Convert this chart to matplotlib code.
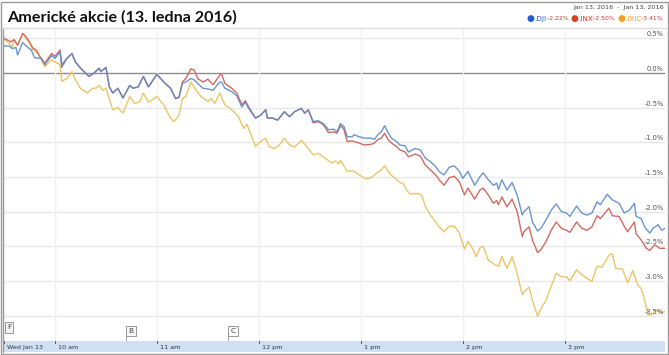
import matplotlib
matplotlib.use("Agg")
import matplotlib.pyplot as plt
from matplotlib.patches import Rectangle
from matplotlib.transforms import blended_transform_factory

# ---------------- data (minutes since 9:30 open, % change) ----------------
dji_t = [0, 3, 5, 7, 8, 11, 13, 16, 18, 22, 24, 28, 30, 33, 34,
         37, 40, 42, 45, 50, 53, 56, 57, 60, 62, 64, 67, 70, 74, 76, 79, 82, 85, 90, 94, 98,
         101, 103, 105, 107, 110, 112, 114, 117, 120, 123, 127, 128, 130, 134, 137, 140, 142, 144,
         148, 151, 154, 155, 158, 161, 165, 168, 171, 175, 177, 179,
         182, 185, 188, 191, 194, 196, 198, 200, 202, 205, 206, 209, 212, 216, 218, 220, 222, 224,
         226, 228, 231, 233, 236, 238, 242, 245, 248, 251, 254, 256, 259, 262, 265, 268, 270, 273,
         277, 280, 282, 285, 288, 290, 291, 293, 296, 299, 302, 305, 306, 309, 311, 314, 316, 319,
         322, 325, 328, 331, 333, 337, 340, 343, 346, 349, 351, 355, 358, 362, 365, 368, 371, 372,
         375, 377, 380, 382, 385, 387, 389]
dji_v = [0.39, 0.39, 0.35, 0.37, 0.26, 0.44, 0.39, 0.33, 0.22, 0.21, 0.12, 0.25, 0.21, 0.30, 0.08,
         0.21, 0.28, 0.16, 0.07, -0.05, 0.00, 0.07, 0.02, 0.08, -0.20, -0.29, -0.22, -0.36, -0.18, -0.22, -0.20, -0.05, -0.20, -0.02, -0.13, -0.22,
         -0.37, -0.35, -0.15, -0.13, -0.08, -0.10, -0.15, -0.22, -0.23, -0.25, -0.13, -0.13, -0.22, -0.27, -0.33, -0.49, -0.42, -0.51,
         -0.65, -0.61, -0.53, -0.65, -0.65, -0.68, -0.56, -0.63, -0.56, -0.51, -0.58, -0.53,
         -0.70, -0.69, -0.73, -0.82, -0.81, -0.85, -0.73, -0.77, -0.92, -0.92, -0.89, -0.92, -0.94, -0.94, -0.96, -0.89, -0.85, -0.76,
         -0.86, -0.94, -0.99, -1.04, -1.05, -1.14, -1.09, -1.11, -1.23, -1.28, -1.35, -1.42, -1.47, -1.36, -1.34, -1.42, -1.52, -1.42,
         -1.62, -1.50, -1.44, -1.54, -1.62, -1.59, -1.68, -1.54, -1.69, -1.58, -1.76, -2.05, -2.00, -1.93, -2.15, -2.28, -2.24, -2.12,
         -1.98, -1.89, -2.00, -2.02, -2.07, -1.92, -2.02, -2.05, -2.02, -1.86, -1.90, -1.75, -1.83, -1.88, -2.02, -1.98, -1.88, -2.07,
         -2.10, -2.22, -2.31, -2.24, -2.19, -2.27, -2.24]

inx_t = [0, 4, 6, 8, 11, 13, 15, 17, 19, 21, 24, 28, 30, 33, 34, 37, 40, 42, 45, 50, 53, 56, 57, 60,
         62, 64, 67, 70, 74, 76, 79, 82, 85, 90, 94, 98, 101, 103, 105, 107, 110, 112, 114, 117, 120,
         123, 127, 128, 130, 134, 137, 140, 142, 144, 148, 151, 154, 155, 158, 161, 165, 168, 171, 175,
         177, 179, 182, 185, 188, 191, 194, 196, 198, 200, 202, 205, 206, 209, 212, 216, 218, 220, 222,
         224, 226, 228, 231, 233, 236, 238, 242, 245, 248, 251, 254, 256, 259, 262, 265, 268, 271, 273,
         277, 280, 282, 285, 288, 290, 291, 293, 296, 299, 302, 305, 306, 309, 311, 314, 316, 319, 322,
         325, 328, 331, 333, 337, 340, 343, 346, 349, 351, 356, 358, 362, 365, 367, 371, 372, 375, 378,
         380, 383, 386, 389]
inx_v = [0.50, 0.45, 0.48, 0.40, 0.57, 0.52, 0.45, 0.36, 0.33, 0.24, 0.14, 0.28, 0.24, 0.33, 0.12, 0.21, 0.28, 0.16, 0.07, -0.05, 0.00, 0.07, 0.02, 0.08,
         -0.20, -0.29, -0.22, -0.36, -0.18, -0.22, -0.20, -0.05, -0.20, -0.02, -0.13, -0.22, -0.37, -0.35, -0.13, -0.08, 0.06, 0.04, -0.08, -0.13, -0.09,
         -0.17, -0.03, -0.01, -0.15, -0.22, -0.29, -0.46, -0.40, -0.49, -0.65, -0.61, -0.53, -0.65, -0.65, -0.68, -0.56, -0.63, -0.56, -0.51,
         -0.58, -0.53, -0.72, -0.70, -0.75, -0.86, -0.85, -0.87, -0.76, -0.81, -0.99, -0.98, -0.99, -1.01, -1.04, -1.03, -1.01, -0.96, -0.94,
         -0.87, -0.96, -1.01, -1.06, -1.11, -1.14, -1.21, -1.17, -1.20, -1.33, -1.40, -1.47, -1.54, -1.62, -1.51, -1.49, -1.57, -1.76, -1.66,
         -1.82, -1.69, -1.66, -1.76, -1.88, -1.84, -1.90, -1.79, -1.93, -1.82, -2.00, -2.36, -2.29, -2.22, -2.41, -2.59, -2.55, -2.43, -2.27,
         -2.15, -2.24, -2.27, -2.30, -2.15, -2.24, -2.27, -2.22, -2.06, -2.10, -1.95, -2.06, -2.07, -2.21, -2.29, -2.15, -2.32, -2.41, -2.53,
         -2.56, -2.48, -2.53, -2.53]

ixic_t = [0, 3, 5, 6, 8, 11, 13, 15, 17, 19, 21, 24, 28, 30, 33, 34, 37, 40, 42, 45, 49, 52, 54, 56, 58, 60,
          64, 67, 70, 74, 77, 80, 82, 85, 90, 94, 98, 100, 103, 105, 107, 110, 113, 116, 120, 122, 124, 127,
          130, 134, 138, 141, 143, 145, 148, 151, 154, 156, 159, 162, 165, 168, 171, 175, 178, 182, 185, 188,
          189, 193, 195, 197, 198, 202, 205, 206, 209, 213, 216, 219, 222, 224, 227, 230, 233, 235, 237, 239,
          241, 244, 246, 248, 251, 254, 256, 259, 262, 265, 268, 271, 273, 275, 278, 280, 282, 285, 288, 291,
          293, 296, 299, 302, 305, 306, 309, 311, 314, 316, 319, 322, 325, 328, 331, 333, 337, 340, 343, 346,
          349, 352, 356, 358, 360, 364, 367, 370, 373, 375, 377, 379, 381, 384, 387, 389]
ixic_v = [0.49, 0.43, 0.37, 0.48, 0.40, 0.57, 0.50, 0.43, 0.33, 0.30, 0.24, 0.09, 0.19, 0.16, 0.12, -0.12, -0.08, 0.02, -0.10, -0.22, -0.29, -0.22, -0.22, -0.18, -0.25, -0.22,
          -0.53, -0.50, -0.58, -0.34, -0.44, -0.41, -0.29, -0.42, -0.34, -0.46, -0.65, -0.70, -0.61, -0.37, -0.34, -0.13, -0.25, -0.34, -0.41, -0.37, -0.44, -0.29,
          -0.46, -0.53, -0.63, -0.80, -0.74, -0.87, -1.06, -0.99, -0.94, -1.06, -1.09, -1.04, -0.94, -1.04, -1.07, -0.97, -1.06, -1.18, -1.16, -1.21,
          -1.23, -1.30, -1.27, -1.31, -1.26, -1.42, -1.41, -1.42, -1.47, -1.53, -1.51, -1.45, -1.40, -1.34, -1.45, -1.52, -1.58, -1.60, -1.69, -1.75,
          -1.74, -1.74, -1.77, -1.93, -2.05, -2.15, -2.22, -2.29, -2.21, -2.21, -2.31, -2.54, -2.43, -2.50, -2.65, -2.53, -2.50, -2.70, -2.75, -2.79,
          -2.65, -2.82, -2.65, -2.89, -3.20, -3.16, -3.09, -3.28, -3.51, -3.40, -3.28, -3.08, -2.89, -2.94, -2.94, -3.00, -2.84, -2.91, -2.96, -3.01,
          -2.79, -2.80, -2.63, -2.61, -2.82, -2.83, -3.03, -2.85, -3.06, -3.11, -3.28, -3.49, -3.49, -3.42, -3.46, -3.44]

series_names = [".DJI", ".INX", ".IXIC"]
series_changes = ["-2.22%", "-2.50%", "-3.41%"]
series_colors = ["#5a8bcb", "#d26a62", "#ecc666"]
name_colors = ["#2060c8", "#d84020", "#f0a020"]

y_ticks = [0.5, 0.0, -0.5, -1.0, -1.5, -2.0, -2.5, -3.0, -3.5]
y_labels = ["0.5%", "0.0%", "-0.5%", "-1.0%", "-1.5%", "-2.0%", "-2.5%", "-3.0%", "-3.5%"]
x_ticks = [0, 30, 90, 150, 210, 270, 330]
x_labels = ["Wed Jan 13", "10 am", "11 am", "12 pm", "1 pm", "2 pm", "3 pm"]
event_t = [0, 72, 132]
event_labels = ["F", "B", "C"]

title = "Americké akcie (13. ledna 2016)"
date_range = "Jan 13, 2016  -  Jan 13, 2016"

# ---------------- figure ----------------
W, H = 669, 355
fig = plt.figure(figsize=(W / 100, H / 100), dpi=100)

def fx(px):
    return px / W

def fy(py):
    return 1 - py / H

ax = fig.add_axes([fx(4), fy(341), fx(665) - fx(4), fy(28) - fy(341)])
ax.set_xlim(0, 389)
ax.set_ylim(-3.867, 0.649)
for s in ax.spines.values():
    s.set_visible(False)
ax.set_xticks([])
ax.set_yticks([])

# grid
for v in y_ticks:
    if v == 0:
        ax.axhline(v, color="#8c8c8c", lw=1.0, zorder=1)
    else:
        ax.axhline(v, color="#e8e8e8", lw=1.0, zorder=1)
for t in x_ticks[1:]:
    ax.axvline(t, color="#f1f1f1", lw=1.0, zorder=1)

ax.plot(ixic_t, ixic_v, color=series_colors[2], lw=1.0, zorder=3)
ax.plot(inx_t, inx_v, color=series_colors[1], lw=1.0, zorder=4)
ax.plot(dji_t, dji_v, color=series_colors[0], lw=1.0, alpha=0.9, zorder=5)

# y labels inside at right, sitting above the grid lines
trans = blended_transform_factory(ax.transAxes, ax.transData)
for v, lab in zip(y_ticks, y_labels):
    ax.text(0.998, v + 0.015, lab, transform=trans, ha="right", va="bottom",
            fontsize=4.8, color="#555555", zorder=6)

# event markers
for t, lab in zip(event_t, event_labels):
    if lab == "F":
        ax.text(t + 3.0, -3.67, lab, ha="center", va="center", fontsize=5.4, color="#444444",
                bbox=dict(boxstyle="square,pad=0.3", fc="#f2f2f2", ec="#888888", lw=0.6), zorder=7)
    else:
        ax.plot([t, t], [-3.87, -3.76], color="#999999", lw=0.6, zorder=6)
        ax.text(t + 2.8, -3.72, lab, ha="center", va="center", fontsize=5.4, color="#444444",
                bbox=dict(boxstyle="square,pad=0.3", fc="#f8f8f8", ec="#888888", lw=0.6), zorder=7)

# bottom band
bx = fig.add_axes([fx(4), fy(352), fx(665) - fx(4), fy(341) - fy(352)])
bx.set_xlim(0, 389)
bx.set_ylim(0, 1)
bx.set_facecolor("#cfe0f4")
for s in bx.spines.values():
    s.set_visible(False)
bx.set_xticks([])
bx.set_yticks([])
for t, lab in zip(x_ticks, x_labels):
    bx.plot([t, t], [0.82, 1.0], color="#555555", lw=0.7)
    bx.text(t + 1.8, 0.45, lab, ha="left", va="center", fontsize=4.6, color="#333333")

# frame lines
fig.add_artist(plt.Line2D([fx(3), fx(3)], [fy(28), fy(352)], color="#9a9a9a", lw=1.0))
fig.add_artist(plt.Line2D([fx(3), fx(666)], [fy(28), fy(28)], color="#dddddd", lw=1.0))
fig.add_artist(Rectangle((fx(1), fy(353.5)), fx(667), fy(1.5) - fy(353.5), transform=fig.transFigure,
                         fill=False, ec="#9a9a9a", lw=1.0))

# title
fig.text(fx(7), fy(17), title, ha="left", va="center", fontsize=11.6, fontfamily="Lato",
         fontweight="bold", color="#111111")

# top right date range & legend
fig.text(fx(664), fy(8), date_range, ha="right", va="center", fontsize=4.6, color="#444444")

parts = []
for name, chg, nc in zip(series_names, series_changes, name_colors):
    parts.append(("\u25cf", nc, 6.5))
    parts.append((name, nc, 5.2))
    parts.append((chg + " ", "#d03030", 4.4))

renderer = fig.canvas.get_renderer()
# lay out right to left
xpos = fx(665)
for txt, col, fs in reversed(parts):
    tt = fig.text(xpos, fy(19), txt, ha="right", va="center", fontsize=fs, color=col)
    bb = tt.get_window_extent(renderer=renderer)
    xpos -= bb.width / W

fig.savefig("out.png", dpi=100)
